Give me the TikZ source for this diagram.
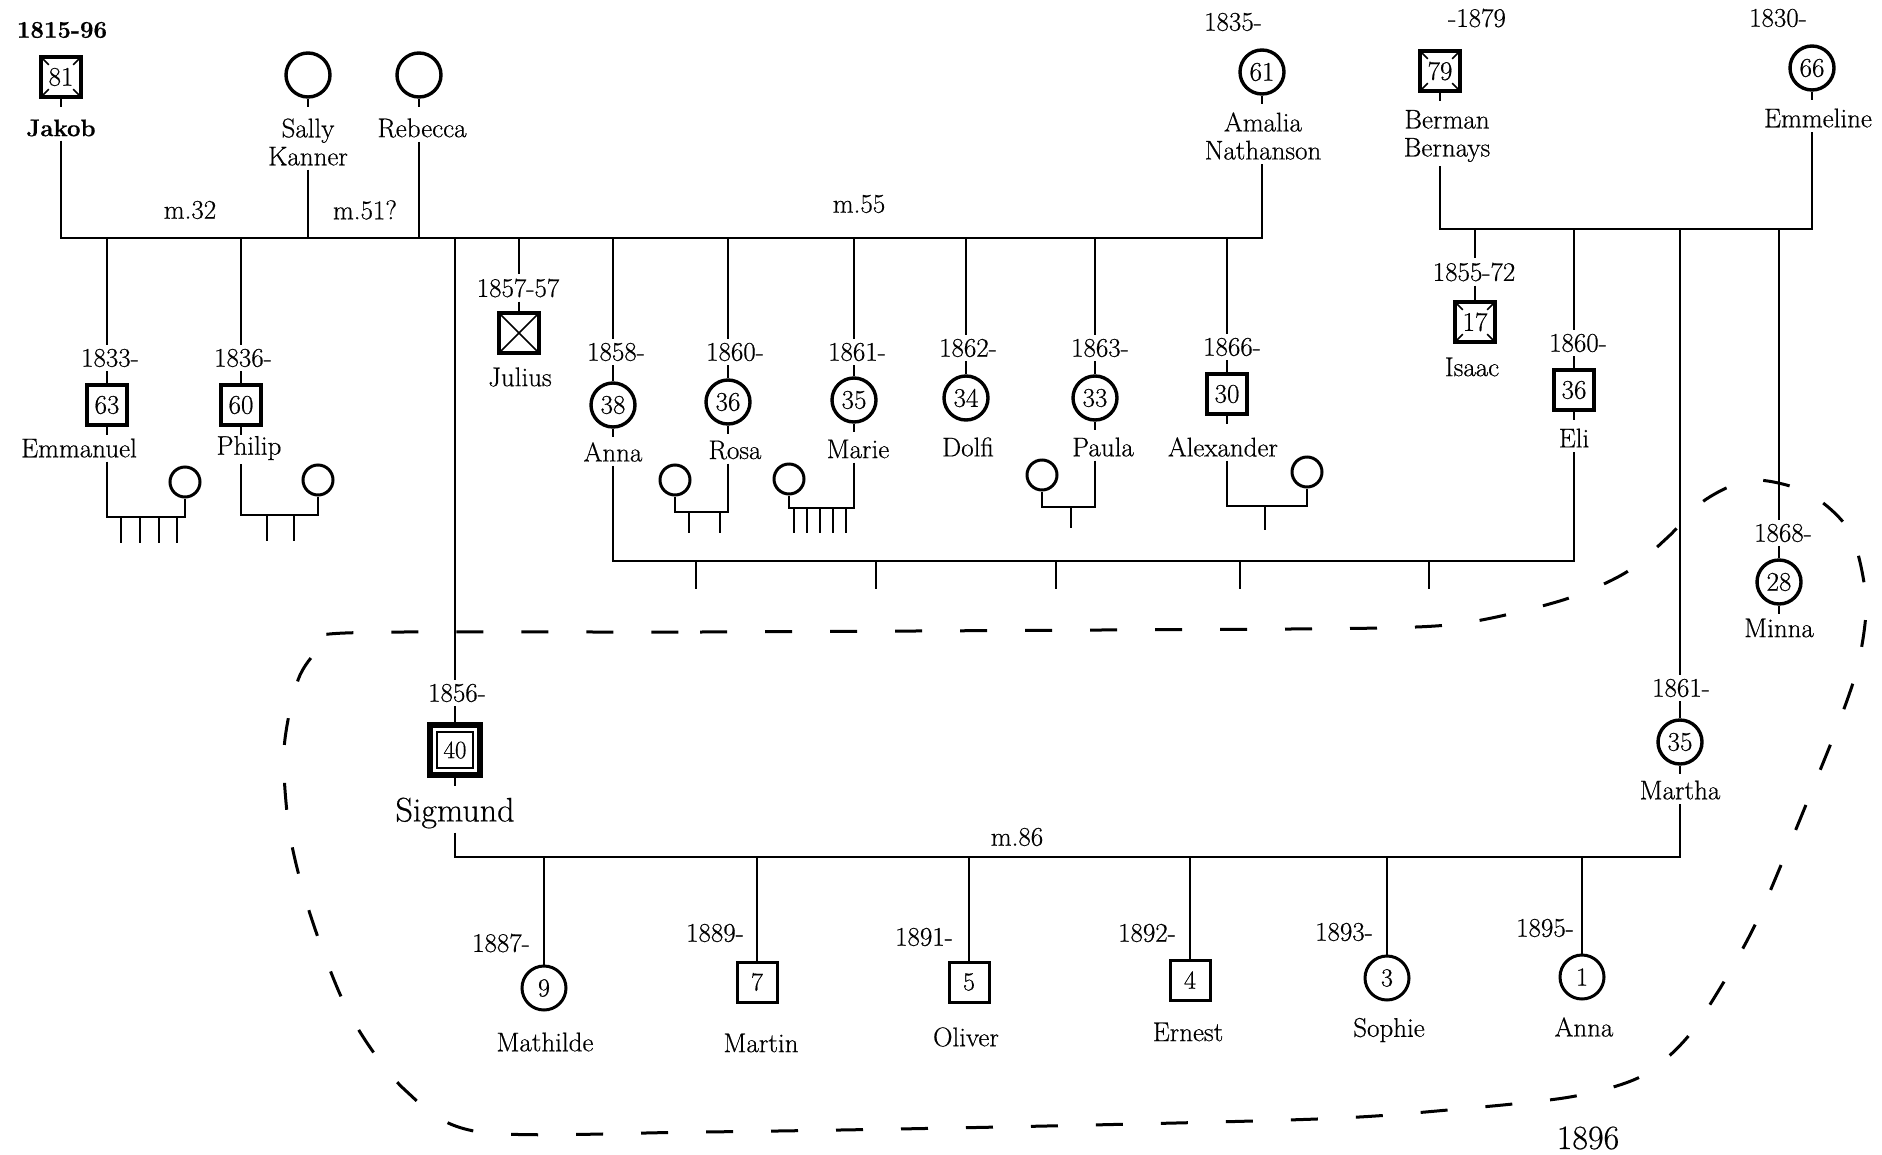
\documentclass[tikz,border=0pt]{standalone}
\usepackage{fontspec}
\setmainfont{Latin Modern Roman}[FakeBold=0.5]
\begin{document}
\begin{tikzpicture}[x=1pt,y=-1pt,
  ln/.style={line width=2.6pt},
  lbl/.style={font=\fontsize{27}{28}\selectfont, inner sep=4pt, align=center},
  blbl/.style={font=\bfseries\fontsize{24}{26}\selectfont, inner sep=4pt},
  bigl/.style={font=\fontsize{34}{36}\selectfont, inner sep=4pt},
  fem/.style={circle, draw, line width=3.4pt, minimum size=44pt, inner sep=0pt, font=\fontsize{27}{28}\selectfont},
  mal/.style={rectangle, draw, line width=3.4pt, minimum size=40pt, inner sep=0pt, font=\fontsize{27}{28}\selectfont},
  sps/.style={circle, draw, line width=3pt, minimum size=30pt, inner sep=0pt},
  kf/.style={circle, draw, line width=3pt, minimum size=44pt, inner sep=0pt, font=\fontsize{26}{28}\selectfont},
  km/.style={rectangle, draw, line width=3pt, minimum size=40pt, inner sep=0pt, font=\fontsize{26}{28}\selectfont},
  mk/.style={line width=1.6pt},
  bnd/.style={line width=3pt, dash pattern=on 27pt off 38pt},
]
\fill[white] (0,0) rectangle (1882,1154);
\useasboundingbox (0,0) rectangle (1882,1154);

\newcommand{\dmarks}[1]{%
  \draw[mk] ([shift={(3.5,3.5)}]#1.north west) -- ++(6,6);
  \draw[mk] ([shift={(-3.5,3.5)}]#1.north east) -- ++(-6,6);
  \draw[mk] ([shift={(3.5,-3.5)}]#1.south west) -- ++(6,-6);
  \draw[mk] ([shift={(-3.5,-3.5)}]#1.south east) -- ++(-6,-6);}

\coordinate (ml) at (0,238);
\coordinate (bl) at (0,229);
\coordinate (sl) at (0,561);
\coordinate (ml3) at (0,857);

% ---------- first generation
\node[blbl] (jakY) at (62,30) {1815-96};
\node[mal] (jak) at (61,77) {81};
\node[blbl] (jakN) at (61,128) {Jakob};
\dmarks{jak}
\node[fem] (sal) at (308,75) {};
\node[lbl] (salN) at (308,142) {Sally\\Kanner};
\node[fem] (reb) at (419,75) {};
\node[lbl] (rebN) at (422,128) {Rebecca};
\node[lbl] (m32) at (190,210) {m.32};
\node[lbl] (m51) at (365,210) {m.51?};
\node[lbl] (m55) at (859,204) {m.55};
\node[lbl] (amaY) at (1233,22) {1835-};
\node[fem] (ama) at (1262,72) {61};
\node[lbl] (amaN) at (1263,136) {Amalia\\Nathanson};
\node[lbl] (berY) at (1477,18) {-1879};
\node[mal] (ber) at (1440,71) {79};
\dmarks{ber}
\node[lbl] (berN) at (1447,136) {Berman\\Bernays};
\node[lbl] (emlY) at (1778,18) {1830-};
\node[fem] (eml) at (1812,68) {66};
\node[lbl] (emlN) at (1818,118) {Emmeline};

\foreach \p in {jak,sal,reb,ama,ber,eml} \draw[ln] (\p.south) -- ++(0,8);
\draw[ln] (jakN.south -| jak) -- (ml -| jak) -- (ml -| ama) -- (amaN.south -| ama);
\draw[ln] (salN.south -| sal) -- (ml -| sal);
\draw[ln] (rebN.south -| reb) -- (ml -| reb);
\draw[ln] (berN.south -| ber) -- (bl -| ber) -- (bl -| eml) -- (emlN.south -| eml);

% ---------- Emmanuel
\node[lbl] (emmY) at (110,358) {1833-};
\node[mal] (emm) at (107,405) {63};
\node[lbl] (emmN) at (79,448) {Emmanuel};
\node[sps] (emw) at (185,482) {};
\coordinate (eb) at (0,517);
\draw[ln] (ml -| emm) -- (emmY.north -| emm);
\draw[ln] (emmY.south -| emm) -- (emm.north);
\draw[ln] (emm.south) -- ++(0,8);
\draw[ln] (emmN.south -| emm) -- (eb -| emm) -- (eb -| emw) -- (emw.south);
\foreach \x in {121,140,159,177} \draw[ln] (\x,517) -- (\x,543);

% ---------- Philip
\node[lbl] (phiY) at (243,358) {1836-};
\node[mal] (phi) at (241,405) {60};
\node[lbl] (phiN) at (249,448) {Philip};
\node[sps] (phw) at (318,480) {};
\coordinate (pb) at (0,515);
\draw[ln] (ml -| phi) -- (phiY.north -| phi);
\draw[ln] (phiY.south -| phi) -- (phi.north);
\draw[ln] (phi.south) -- ++(0,8);
\draw[ln] (phiN.south -| phi) -- (pb -| phi) -- (pb -| phw) -- (phw.south);
\foreach \x in {267,294} \draw[ln] (\x,515) -- (\x,541);

% ---------- Sigmund
\node[lbl] (sigY) at (457,693) {1856-};
\node[draw, line width=6pt, minimum size=50pt, inner sep=0pt] (sig) at (455,750) {};
\node[draw, line width=2pt, minimum size=36pt, inner sep=0pt, font=\fontsize{25}{26}\selectfont] (sigi) at (sig.center) {40};
\node[bigl] (sigN) at (455,813) {Sigmund};
\draw[ln] (ml -| sig) -- (sigY.north -| sig);
\draw[ln] (sigY.south -| sig) -- (sig.north);
\draw[ln] (sig.south) -- ++(0,8);

% ---------- Julius
\node[lbl] (julY) at (518,288) {1857-57};
\node[mal] (jul) at (519,333) {};
\node[lbl] (julN) at (520,377) {Julius};
\draw[ln] (ml -| jul) -- (julY.north -| jul);
\draw[ln] (julY.south -| jul) -- (jul.north);
\draw[mk] ([shift={(3,3)}]jul.north west) -- ([shift={(-3,-3)}]jul.south east);
\draw[mk] ([shift={(-3,3)}]jul.north east) -- ([shift={(3,-3)}]jul.south west);

% ---------- Anna
\node[lbl] (annY) at (616,352) {1858-};
\node[fem] (ann) at (613,405) {38};
\node[lbl] (annN) at (613,452) {Anna};
\draw[ln] (ml -| ann) -- (annY.north -| ann);
\draw[ln] (annY.south -| ann) -- (ann.north);
\draw[ln] (ann.south) -- ++(0,8);

% ---------- Rosa
\node[lbl] (rosY) at (735,352) {1860-};
\node[fem] (ros) at (728,402) {36};
\node[lbl] (rosN) at (735,450) {Rosa};
\node[sps] (rsh) at (675,480) {};
\coordinate (rb) at (0,512);
\draw[ln] (ml -| ros) -- (rosY.north -| ros);
\draw[ln] (rosY.south -| ros) -- (ros.north);
\draw[ln] (ros.south) -- ++(0,8);
\draw[ln] (rosN.south -| ros) -- (rb -| ros) -- (rb -| rsh) -- (rsh.south);
\foreach \x in {689,720} \draw[ln] (\x,512) -- (\x,533);

% ---------- Marie
\node[lbl] (marY2) at (857,352) {1861-};
\node[fem] (mri) at (854,400) {35};
\node[lbl] (mriN) at (858,449) {Marie};
\node[sps] (mrh) at (789,479) {};
\coordinate (mb) at (0,508);
\draw[ln] (ml -| mri) -- (marY2.north -| mri);
\draw[ln] (marY2.south -| mri) -- (mri.north);
\draw[ln] (mri.south) -- ++(0,8);
\draw[ln] (mriN.south -| mri) -- (mb -| mri) -- (mb -| mrh) -- (mrh.south);
\foreach \x in {794,807,820,833,846} \draw[ln] (\x,508) -- (\x,533);

% ---------- Dolfi
\node[lbl] (dolY) at (968,348) {1862-};
\node[fem] (dol) at (966,398) {34};
\node[lbl] (dolN) at (968,447) {Dolfi};
\draw[ln] (ml -| dol) -- (dolY.north -| dol);
\draw[ln] (dolY.south -| dol) -- (dol.north);

% ---------- Paula
\node[lbl] (pauY) at (1100,348) {1863-};
\node[fem] (pau) at (1095,398) {33};
\node[lbl] (pauN) at (1103,447) {Paula};
\node[sps] (pah) at (1042,475) {};
\coordinate (pab) at (0,507);
\draw[ln] (ml -| pau) -- (pauY.north -| pau);
\draw[ln] (pauY.south -| pau) -- (pau.north);
\draw[ln] (pau.south) -- ++(0,8);
\draw[ln] (pauN.south -| pau) -- (pab -| pau) -- (pab -| pah) -- (pah.south);
\draw[ln] (1071,507) -- (1071,528);

% ---------- Alexander
\node[lbl] (aleY) at (1232,347) {1866-};
\node[mal] (ale) at (1227,394) {30};
\node[lbl] (aleN) at (1223,447) {Alexander};
\node[sps] (alw) at (1307,472) {};
\coordinate (ab) at (0,506);
\draw[ln] (ml -| ale) -- (aleY.north -| ale);
\draw[ln] (aleY.south -| ale) -- (ale.north);
\draw[ln] (ale.south) -- ++(0,8);
\draw[ln] (aleN.south -| ale) -- (ab -| ale) -- (ab -| alw) -- (alw.south);
\draw[ln] (1265,506) -- (1265,530);

% ---------- Bernays children
\node[lbl] (isaY) at (1474,272) {1855-72};
\node[mal] (isa) at (1475,322) {17};
\dmarks{isa}
\node[lbl] (isaN) at (1472,367) {Isaac};
\draw[ln] (bl -| isa) -- (isaY.north -| isa);
\draw[ln] (isaY.south -| isa) -- (isa.north);

\node[lbl] (eliY) at (1578,343) {1860-};
\node[mal] (eli) at (1574,390) {36};
\node[lbl] (eliN) at (1574,438) {Eli};
\draw[ln] (bl -| eli) -- (eliY.north -| eli);
\draw[ln] (eliY.south -| eli) -- (eli.north);
\draw[ln] (eli.south) -- ++(0,8);

\node[lbl] (mthY) at (1681,688) {1861-};
\node[fem] (mth) at (1680,742) {35};
\node[lbl] (mthN) at (1680,790) {Martha};
\draw[ln] (bl -| mth) -- (mthY.north -| mth);
\draw[ln] (mthY.south -| mth) -- (mth.north);
\draw[ln] (mth.south) -- ++(0,8);

\node[lbl] (minY) at (1783,533) {1868-};
\node[fem] (min) at (1779,582) {28};
\node[lbl] (minN) at (1779,628) {Minna};
\draw[ln] (bl -| min) -- (minY.north -| min);
\draw[ln] (minY.south -| min) -- (min.north);
\draw[ln] (min.south) -- ++(0,8);

% ---------- Anna + Eli marriage line
\draw[ln] (annN.south -| ann) -- (sl -| ann) -- (sl -| eli) -- (eliN.south -| eli);
\foreach \x in {696,876,1056,1240,1429} \draw[ln] (\x,561) -- (\x,589);

% ---------- Sigmund + Martha
\node[lbl] (m86) at (1017,837) {m.86};
\draw[ln] (sigN.south -| sig) -- (ml3 -| sig) -- (ml3 -| mth) -- (mthN.south -| mth);

\node[kf] (k1) at (544,988) {9};
\node[lbl] (k1Y) at (501,943) {1887-};
\node[lbl] (k1N) at (545,1042) {Mathilde};
\node[km] (k2) at (757,982) {7};
\node[lbl] (k2Y) at (715,933) {1889-};
\node[lbl] (k2N) at (761,1043) {Martin};
\node[km] (k3) at (969,982) {5};
\node[lbl] (k3Y) at (924,937) {1891-};
\node[lbl] (k3N) at (966,1037) {Oliver};
\node[km] (k4) at (1190,980) {4};
\node[lbl] (k4Y) at (1147,933) {1892-};
\node[lbl] (k4N) at (1188,1032) {Ernest};
\node[kf] (k5) at (1387,978) {3};
\node[lbl] (k5Y) at (1344,932) {1893-};
\node[lbl] (k5N) at (1389,1030) {Sophie};
\node[kf] (k6) at (1582,977) {1};
\node[lbl] (k6Y) at (1545,928) {1895-};
\node[lbl] (k6N) at (1584,1027) {Anna};
\foreach \k in {k1,k2,k3,k4,k5,k6} \draw[ln] (ml3 -| \k) -- (\k.north);

\node[bigl] (yr) at (1588,1138) {1896};

% ---------- boundary
\draw[bnd] plot[smooth cycle, tension=0.5] coordinates {
(345,633) (700,632) (1100,630) (1380,628) (1470,622) (1563,600) (1625,573)
(1668,537) (1705,500) (1752,480) (1808,493) (1850,532) (1866,600) (1858,665)
(1838,725) (1812,790) (1784,858) (1755,925) (1722,985) (1685,1040) (1640,1077)
(1570,1097) (1448,1110) (1317,1119) (1000,1127) (700,1132) (480,1132) (405,1090)
(350,1015) (312,920) (290,835) (284,750) (298,680) (320,648)};
\end{tikzpicture}
\end{document}
